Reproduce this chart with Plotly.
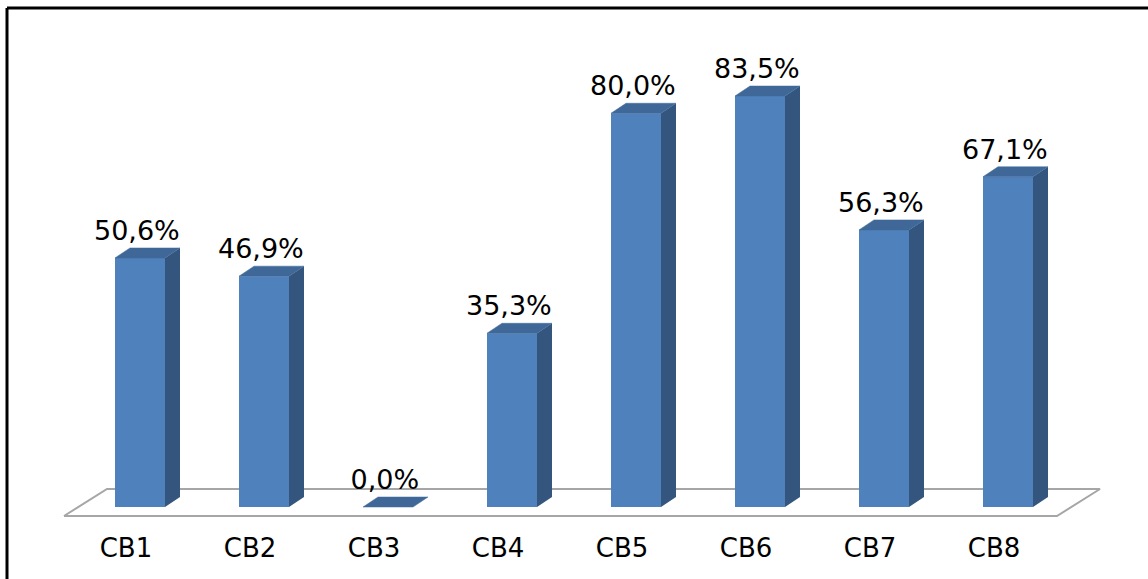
import plotly.graph_objects as go

# Data
categories = ["CB1", "CB2", "CB3", "CB4", "CB5", "CB6", "CB7", "CB8"]
values = [50.6, 46.9, 0.0, 35.3, 80.0, 83.5, 56.3, 67.1]
value_labels = [f"{v:.1f}".replace(".", ",") + "%" for v in values]

# Colours of the pseudo-3D boxes
FRONT = "#4F81BD"
TOP = "#3F6898"
SIDE = "#33557E"
FLOOR_LINE = "#A6A6A6"

LABEL_FONT = "DejaVu Sans, Liberation Sans, Arial, sans-serif"

# Box geometry in axis units (x: category slots, y: percent)
HALF_W = 0.2016   # half width of a bar's front face
DEPTH_X = 0.121   # receding offset along x
DEPTH_Y = 2.03    # receding offset along y
TICK_SHIFT = 0.113  # category labels sit under the floor's front edge

# Floor plate (parallelogram under the bars)
floor_front_y, floor_back_y = -1.83, 3.66
floor_x = [-0.613, 7.395, 7.742, -0.266, -0.613]
floor_y = [floor_front_y, floor_front_y, floor_back_y, floor_back_y, floor_front_y]

fig = go.Figure()

fig.add_trace(go.Scatter(
    x=floor_x, y=floor_y, mode="lines",
    line=dict(color=FLOOR_LINE, width=2),
    hoverinfo="skip", showlegend=False,
))

for i, v in enumerate(values):
    xl, xr = i - HALF_W, i + HALF_W
    # right side face
    fig.add_trace(go.Scatter(
        x=[xr, xr + DEPTH_X, xr + DEPTH_X, xr, xr],
        y=[0, DEPTH_Y, v + DEPTH_Y, v, 0],
        fill="toself", fillcolor=SIDE, mode="lines",
        line=dict(width=0, color=SIDE),
        hoverinfo="skip", showlegend=False,
    ))
    # front face
    if v > 0:
        fig.add_trace(go.Scatter(
            x=[xl, xr, xr, xl, xl],
            y=[0, 0, v, v, 0],
            fill="toself", fillcolor=FRONT, mode="lines",
            line=dict(width=0, color=FRONT),
            hoverinfo="skip", showlegend=False,
        ))
    # top face
    fig.add_trace(go.Scatter(
        x=[xl, xr, xr + DEPTH_X, xl + DEPTH_X, xl],
        y=[v, v, v + DEPTH_Y, v + DEPTH_Y, v],
        fill="toself", fillcolor=TOP, mode="lines",
        line=dict(width=0.5, color=TOP),
        hoverinfo="skip", showlegend=False,
    ))

# Value labels above each box
fig.add_trace(go.Scatter(
    x=[i - 0.025 for i in range(len(values))],
    y=[v + DEPTH_Y + 3.0 for v in values],
    mode="text", text=value_labels, textposition="middle center",
    textfont=dict(family=LABEL_FONT, size=27, color="#000000"),
    hoverinfo="skip", showlegend=False,
))

fig.update_layout(
    width=1148, height=579,
    margin=dict(l=0, r=0, t=0, b=49),
    paper_bgcolor="white", plot_bgcolor="white",
    xaxis=dict(
        range=[-1.1290, 8.1290],
        tickmode="array",
        tickvals=[i - TICK_SHIFT for i in range(len(categories))],
        ticktext=categories,
        tickfont=dict(family=LABEL_FONT, size=26, color="#000000"),
        showgrid=False, zeroline=False, showline=False, ticks="",
        automargin=False,
    ),
    yaxis=dict(
        range=[-4.673, 103.01],
        showgrid=False, zeroline=False, showline=False,
        showticklabels=False, ticks="", automargin=False,
    ),
    shapes=[
        dict(type="line", xref="paper", yref="paper",
             x0=0.0061, x1=1.0, y0=0.9849, y1=0.9849,
             line=dict(color="black", width=3)),
        dict(type="line", xref="paper", yref="paper",
             x0=0.0061, x1=0.0061, y0=0.9849, y1=-0.1,
             line=dict(color="black", width=3)),
    ],
)

fig.write_html("out.html")
